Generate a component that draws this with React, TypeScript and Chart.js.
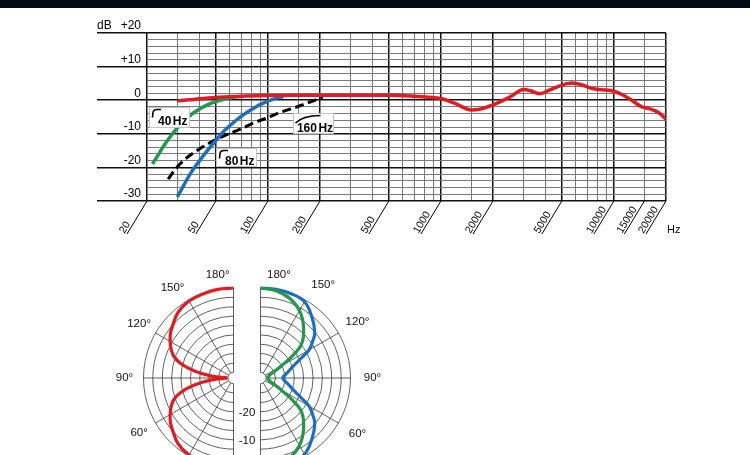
import React, { useEffect, useRef } from "react";
import { Chart, registerables } from "chart.js";

Chart.register(...registerables);

const FONT = "'Liberation Sans', Arial, Helvetica, sans-serif";

// ---------- Frequency response: axes ----------
const FREQ_GRID = [20, 30, 40, 50, 60, 70, 80, 90, 100, 150, 200, 300, 400, 500, 600, 700, 800, 900, 1000, 1500, 2000, 3000, 4000, 5000, 6000, 7000, 8000, 9000, 10000, 15000, 20000];
const FREQ_MAJOR = [20, 50, 100, 200, 500, 1000, 2000, 5000, 10000, 20000];
const FREQ_LABELS = [20, 50, 100, 200, 500, 1000, 2000, 5000, 10000, 15000, 20000];
const DB_GRID = [-30, -28, -26, -24, -22, -20, -18, -16, -14, -12, -10, -8, -6, -4, -2, 0, 2, 4, 6, 8, 10, 12, 14, 16, 18, 20];
const DB_MAJOR = [-30, -20, -10, 0, 10, 20];
const DB_MAJOR_LABELS = ["-30", "-20", "-10", "0", "+10", "+20"];

// ---------- Frequency response: series ----------
const RED_FREQ = [30, 35, 40, 50, 60, 70, 100, 150, 200, 300, 500, 700, 850, 1000, 1200, 1500, 1700, 2000, 2500, 3000, 3300, 3700, 4200, 5000, 5700, 6500, 7500, 8500, 9700, 11000, 12500, 14400, 16200, 18000, 20000];
const RED_DB = [-0.2, 0.1, 0.4, 0.8, 1.0, 1.2, 1.4, 1.5, 1.5, 1.5, 1.5, 1.2, 0.9, 0.5, -0.9, -2.9, -2.6, -1.4, 0.9, 3.2, 2.8, 1.9, 2.9, 4.5, 5.1, 4.6, 3.5, 3.1, 2.8, 1.8, 0.2, -1.9, -2.6, -3.6, -5.7];

const GREEN_FREQ = [21.5, 23, 25, 27.5, 30, 33, 36, 40, 45, 50, 56, 63, 70];
const GREEN_DB = [-19, -16.6, -13.6, -10.6, -8.2, -6.0, -4.3, -2.7, -1.3, -0.4, 0.3, 0.9, 1.2];

const BLUE_FREQ = [30, 32.5, 35, 40, 45, 50, 55, 62, 70, 85, 100, 112, 123];
const BLUE_DB = [-28.8, -25.5, -22.5, -18.2, -14.8, -12, -9.5, -7, -4.8, -2.0, -0.3, 0.6, 1.1];

const DASH_FREQ = [26.5, 28.5, 31, 35, 40, 45, 50, 57, 65, 75, 85, 100, 115, 130, 145, 165, 185, 208];
const DASH_DB = [-23.5, -21.2, -19, -16.6, -14.6, -13, -11.7, -10.4, -9.2, -7.8, -6.5, -5.2, -3.8, -2.9, -2.1, -1.0, -0.1, 1.0];

const FILTER_LABELS = ["40", "80", "160"];
const FILTER_ANCHOR_FREQ = [20.6, 50.1, 140.3];
const FILTER_ANCHOR_DB = [-1.9, -14.3, -3.9];
const FILTER_KIND = ["hp", "hp", "shelf"];

// ---------- Polar pattern ----------
const POLAR_ANGLES = [90, 95, 100, 105, 110, 115, 120, 125, 130, 140, 150, 160, 170, 180];
const POLAR_RED_DB = [-29.8, -24.2, -18.1, -12.8, -9.4, -7.5, -6.0, -4.6, -3.6, -1.4, -0.4, -0.2, 0, 0];
const POLAR_GREEN_DB = [-29.6, -29.4, -29.2, -28.8, -28.2, -26.5, -23.5, -17.8, -12.8, -8.2, -4.3, -1.8, -0.5, 0];
const POLAR_BLUE_DB = [-24.3, -23.6, -22.6, -21.3, -19.6, -16.7, -12.1, -9.4, -6.8, -3.6, -0.7, -0.1, 0, 0];
const POLAR_RINGS_DB = [0, -3.3, -6.7, -10, -13.3, -16.7, -20, -23.3, -26.7];
const POLAR_HUB_DB = -30;
const POLAR_DB_MIN = -32;
const POLAR_SPOKES = [0, 30, 60, 90, 120, 150, 180];
const POLAR_ANGLE_LABELS = [150, 120, 90, 60, 30, 0];
const POLAR_DB_LABELS = [-20, -10];

const RED = "#e11b22";
const GREEN = "#21984a";
const BLUE = "#1b6fbe";

// layout constants
const POLAR_R_OUT = 90;
const POLAR_HALF_GAP = 13.5;

const pts = (xs: number[], ys: number[]) => xs.map((x, i) => ({ x, y: ys[i] }));
const rOf = (db: number) => (POLAR_R_OUT * (db - POLAR_DB_MIN)) / (0 - POLAR_DB_MIN);
const align = (p: number, w: number) => Math.round(p - w / 2) + w / 2;

function polarPoints(dbs: number[], side: number, lower: boolean) {
  const cx = side * POLAR_HALF_GAP;
  return POLAR_ANGLES.map((a, i) => {
    const t = ((lower ? 180 - a : a) * Math.PI) / 180;
    const r = rOf(dbs[i]);
    return { x: cx + side * r * Math.sin(t), y: -r * Math.cos(t) };
  });
}

const freqPlugin = {
  id: "freqDecor",
  afterDatasetsDraw(chart: any) {
    const { ctx, scales } = chart;
    const x = scales.x;
    const y = scales.y;
    ctx.save();
    FILTER_LABELS.forEach((label, i) => {
      const bx = Math.round(x.getPixelForValue(FILTER_ANCHOR_FREQ[i])) + 0.5;
      const by = Math.round(y.getPixelForValue(FILTER_ANCHOR_DB[i])) + 0.5;
      const kind = FILTER_KIND[i];
      const w = 40;
      const h = kind === "hp" && i === 1 ? 18 : 20;
      ctx.fillStyle = "#ffffff";
      ctx.fillRect(bx, by, w, h);
      ctx.strokeStyle = "#c4c4c4";
      ctx.lineWidth = 1;
      ctx.strokeRect(bx, by, w, h);
      ctx.strokeStyle = "#000";
      ctx.lineWidth = 1.6;
      ctx.beginPath();
      if (kind === "hp") {
        ctx.moveTo(bx + 3, by + 10);
        ctx.lineTo(bx + 3.4, by + 5.5);
        ctx.quadraticCurveTo(bx + 3.8, by + 2, bx + 7.5, by + 2);
        ctx.lineTo(bx + 11.5, by + 2);
      } else {
        ctx.moveTo(bx + 2, by + 9.5);
        ctx.quadraticCurveTo(bx + 9, by + 2.3, bx + 27, by + 2);
      }
      ctx.stroke();
      ctx.fillStyle = "#000";
      ctx.font = `bold 12px ${FONT}`;
      ctx.textAlign = "left";
      ctx.textBaseline = "alphabetic";
      const tx = kind === "hp" ? 8.5 : 3.4;
      const ty = kind === "hp" ? (i === 1 ? 16.5 : 17.5) : 18.5;
      ctx.fillText(label, bx + tx, by + ty);
      const tw = ctx.measureText(label).width;
      ctx.fillText("Hz", bx + tx + tw + 1.5, by + ty);
    });
    ctx.restore();
  },
  afterDraw(chart: any) {
    const { ctx, chartArea, scales } = chart;
    const x = scales.x;
    const y = scales.y;
    ctx.save();
    ctx.strokeStyle = "#111";
    ctx.lineWidth = 1.5;
    DB_MAJOR.forEach((v) => {
      const py = align(y.getPixelForValue(v), 1.5);
      ctx.beginPath();
      ctx.moveTo(chartArea.left - 50, py);
      ctx.lineTo(chartArea.left, py);
      ctx.stroke();
    });
    ctx.fillStyle = "#000";
    ctx.font = `12px ${FONT}`;
    ctx.textAlign = "left";
    ctx.textBaseline = "middle";
    ctx.fillText("dB", chartArea.left - 50, y.getPixelForValue(20) - 7);

    const by = chartArea.bottom;
    ctx.lineWidth = 1;
    ctx.strokeStyle = "#000";
    ctx.font = `10.5px ${FONT}`;
    ctx.textBaseline = "alphabetic";
    FREQ_LABELS.forEach((v) => {
      const px = x.getPixelForValue(v);
      ctx.beginPath();
      ctx.moveTo(px, by);
      ctx.lineTo(px - 20, by + 33);
      ctx.stroke();
      ctx.save();
      ctx.translate(px - 22.5, by + 33);
      ctx.rotate((-59 * Math.PI) / 180);
      ctx.fillText(String(v), 0, 0);
      ctx.restore();
    });
    ctx.font = `11px ${FONT}`;
    ctx.fillText("Hz", chartArea.right + 1, by + 32);
    ctx.restore();
  },
};

const polarPlugin = {
  id: "polarDecor",
  beforeDatasetsDraw(chart: any) {
    const { ctx, scales } = chart;
    const x = scales.x;
    const y = scales.y;
    const ux = x.getPixelForValue(1) - x.getPixelForValue(0);
    const cy = y.getPixelForValue(0);
    ctx.save();
    ctx.strokeStyle = "#3a3a3a";
    ctx.lineWidth = 0.8;
    [-1, 1].forEach((side) => {
      const cx = x.getPixelForValue(side * POLAR_HALF_GAP);
      [...POLAR_RINGS_DB, POLAR_HUB_DB].forEach((db) => {
        const r = rOf(db) * ux;
        ctx.beginPath();
        if (side > 0) ctx.arc(cx, cy, r, -Math.PI / 2, Math.PI / 2);
        else ctx.arc(cx, cy, r, Math.PI / 2, (3 * Math.PI) / 2);
        ctx.stroke();
      });
      const r0 = rOf(POLAR_HUB_DB) * ux;
      const r1 = rOf(0) * ux;
      POLAR_SPOKES.forEach((a) => {
        const t = (a * Math.PI) / 180;
        const dx = side * Math.sin(t);
        const dy = Math.cos(t);
        ctx.beginPath();
        ctx.moveTo(cx + dx * r0, cy + dy * r0);
        ctx.lineTo(cx + dx * r1, cy + dy * r1);
        ctx.stroke();
      });
    });
    ctx.restore();
  },
  afterDraw(chart: any) {
    const { ctx, scales } = chart;
    const x = scales.x;
    const y = scales.y;
    const ux = x.getPixelForValue(1) - x.getPixelForValue(0);
    const cy = y.getPixelForValue(0);
    ctx.save();
    ctx.fillStyle = "#111";
    ctx.font = `11.5px ${FONT}`;
    ctx.textBaseline = "middle";
    [-1, 1].forEach((side) => {
      const cx = x.getPixelForValue(side * POLAR_HALF_GAP);
      ctx.textAlign = side < 0 ? "right" : "left";
      ctx.fillText("180°", side < 0 ? cx - 4 : cx + 6.5, cy - 103);
      ctx.textAlign = "center";
      const rl = side < 0 ? 109 : 112;
      POLAR_ANGLE_LABELS.forEach((a) => {
        const aa = a === 150 ? 146 : a;
        const t = (aa * Math.PI) / 180;
        ctx.fillText(`${a}°`, cx + side * rl * Math.sin(t), cy + rl * Math.cos(t));
      });
    });
    ctx.textAlign = "center";
    const mid = x.getPixelForValue(0);
    POLAR_DB_LABELS.forEach((db) => {
      ctx.fillText(String(db), mid, cy + rOf(db) * ux + 1);
    });
    ctx.restore();
  },
};

export default function App() {
  const topRef = useRef<HTMLCanvasElement>(null);
  const polarRef = useRef<HTMLCanvasElement>(null);

  useEffect(() => {
    document.body.style.margin = "0";
    const line = (data: any, color: string, extra: any = {}) => ({
      data,
      borderColor: color,
      backgroundColor: color,
      borderWidth: 3.5,
      showLine: true,
      pointRadius: 0,
      fill: false,
      ...extra,
    });

    const top = new Chart(topRef.current as HTMLCanvasElement, {
      type: "scatter",
      data: {
        datasets: [
          line(pts(RED_FREQ, RED_DB), RED, { cubicInterpolationMode: "monotone" }),
          line(pts(GREEN_FREQ, GREEN_DB), GREEN, { cubicInterpolationMode: "monotone" }),
          line(pts(BLUE_FREQ, BLUE_DB), BLUE, { cubicInterpolationMode: "monotone" }),
          line(pts(DASH_FREQ, DASH_DB), "#000", { cubicInterpolationMode: "monotone", borderWidth: 3, borderDash: [9, 4.5] }),
        ],
      },
      options: {
        responsive: false,
        animation: false,
        devicePixelRatio: 1,
        events: [],
        layout: { padding: { top: 33, right: 84, left: 0, bottom: 0 } },
        plugins: { legend: { display: false }, tooltip: { enabled: false } },
        scales: {
          x: {
            type: "logarithmic",
            min: 20,
            max: 20000,
            afterBuildTicks: (s: any) => {
              s.ticks = FREQ_GRID.map((value) => ({ value }));
            },
            afterFit: (s: any) => {
              s.height = 49;
            },
            ticks: { display: false },
            border: { display: false },
            grid: {
              drawTicks: false,
              color: (c: any) => (FREQ_MAJOR.includes(c.tick?.value) ? "#111" : "#7a7a7a"),
              lineWidth: (c: any) => (FREQ_MAJOR.includes(c.tick?.value) ? 1.5 : 1),
            },
          },
          y: {
            type: "linear",
            min: -30,
            max: 20,
            afterBuildTicks: (s: any) => {
              s.ticks = DB_GRID.map((value) => ({ value }));
            },
            afterFit: (s: any) => {
              s.width = 147;
            },
            border: { display: false },
            ticks: {
              autoSkip: false,
              padding: 6,
              labelOffset: -7,
              color: "#000",
              font: { family: FONT, size: 12 },
              callback: (v: any) => {
                const i = DB_MAJOR.indexOf(Number(v));
                return i >= 0 ? DB_MAJOR_LABELS[i] : "";
              },
            },
            grid: {
              drawTicks: false,
              color: (c: any) => (DB_MAJOR.includes(c.tick?.value) ? "#111" : "#7a7a7a"),
              lineWidth: (c: any) => (DB_MAJOR.includes(c.tick?.value) ? 1.5 : 1),
            },
          },
        },
      } as any,
      plugins: [freqPlugin],
    });

    const pl = (dbs: number[], side: number, lower: boolean, color: string) => ({
      data: polarPoints(dbs, side, lower),
      borderColor: color,
      backgroundColor: color,
      borderWidth: 3.2,
      showLine: true,
      pointRadius: 0,
      tension: 0.4,
      fill: false,
    });

    const polar = new Chart(polarRef.current as HTMLCanvasElement, {
      type: "scatter",
      data: {
        datasets: [
          pl(POLAR_RED_DB, -1, false, RED),
          pl(POLAR_RED_DB, -1, true, RED),
          pl(POLAR_GREEN_DB, 1, false, GREEN),
          pl(POLAR_GREEN_DB, 1, true, GREEN),
          pl(POLAR_BLUE_DB, 1, false, BLUE),
          pl(POLAR_BLUE_DB, 1, true, BLUE),
        ],
      },
      options: {
        responsive: false,
        animation: false,
        devicePixelRatio: 1,
        events: [],
        layout: { padding: 0 },
        plugins: { legend: { display: false }, tooltip: { enabled: false } },
        scales: {
          x: { type: "linear", min: -150, max: 150, display: false },
          y: { type: "linear", min: -120, max: 120, display: false },
        },
      } as any,
      plugins: [polarPlugin],
    });

    return () => {
      top.destroy();
      polar.destroy();
    };
  }, []);

  return (
    <div style={{ position: "relative", width: 750, height: 455, overflow: "hidden", background: "#fff" }}>
      <canvas ref={topRef} width={750} height={250} style={{ position: "absolute", left: 0, top: 0, width: 750, height: 250 }} />
      <div style={{ position: "absolute", left: 0, top: 0, width: 750, height: 8, background: "#040a14" }} />
      <canvas ref={polarRef} width={300} height={240} style={{ position: "absolute", left: 97, top: 258, width: 300, height: 240 }} />
    </div>
  );
}
